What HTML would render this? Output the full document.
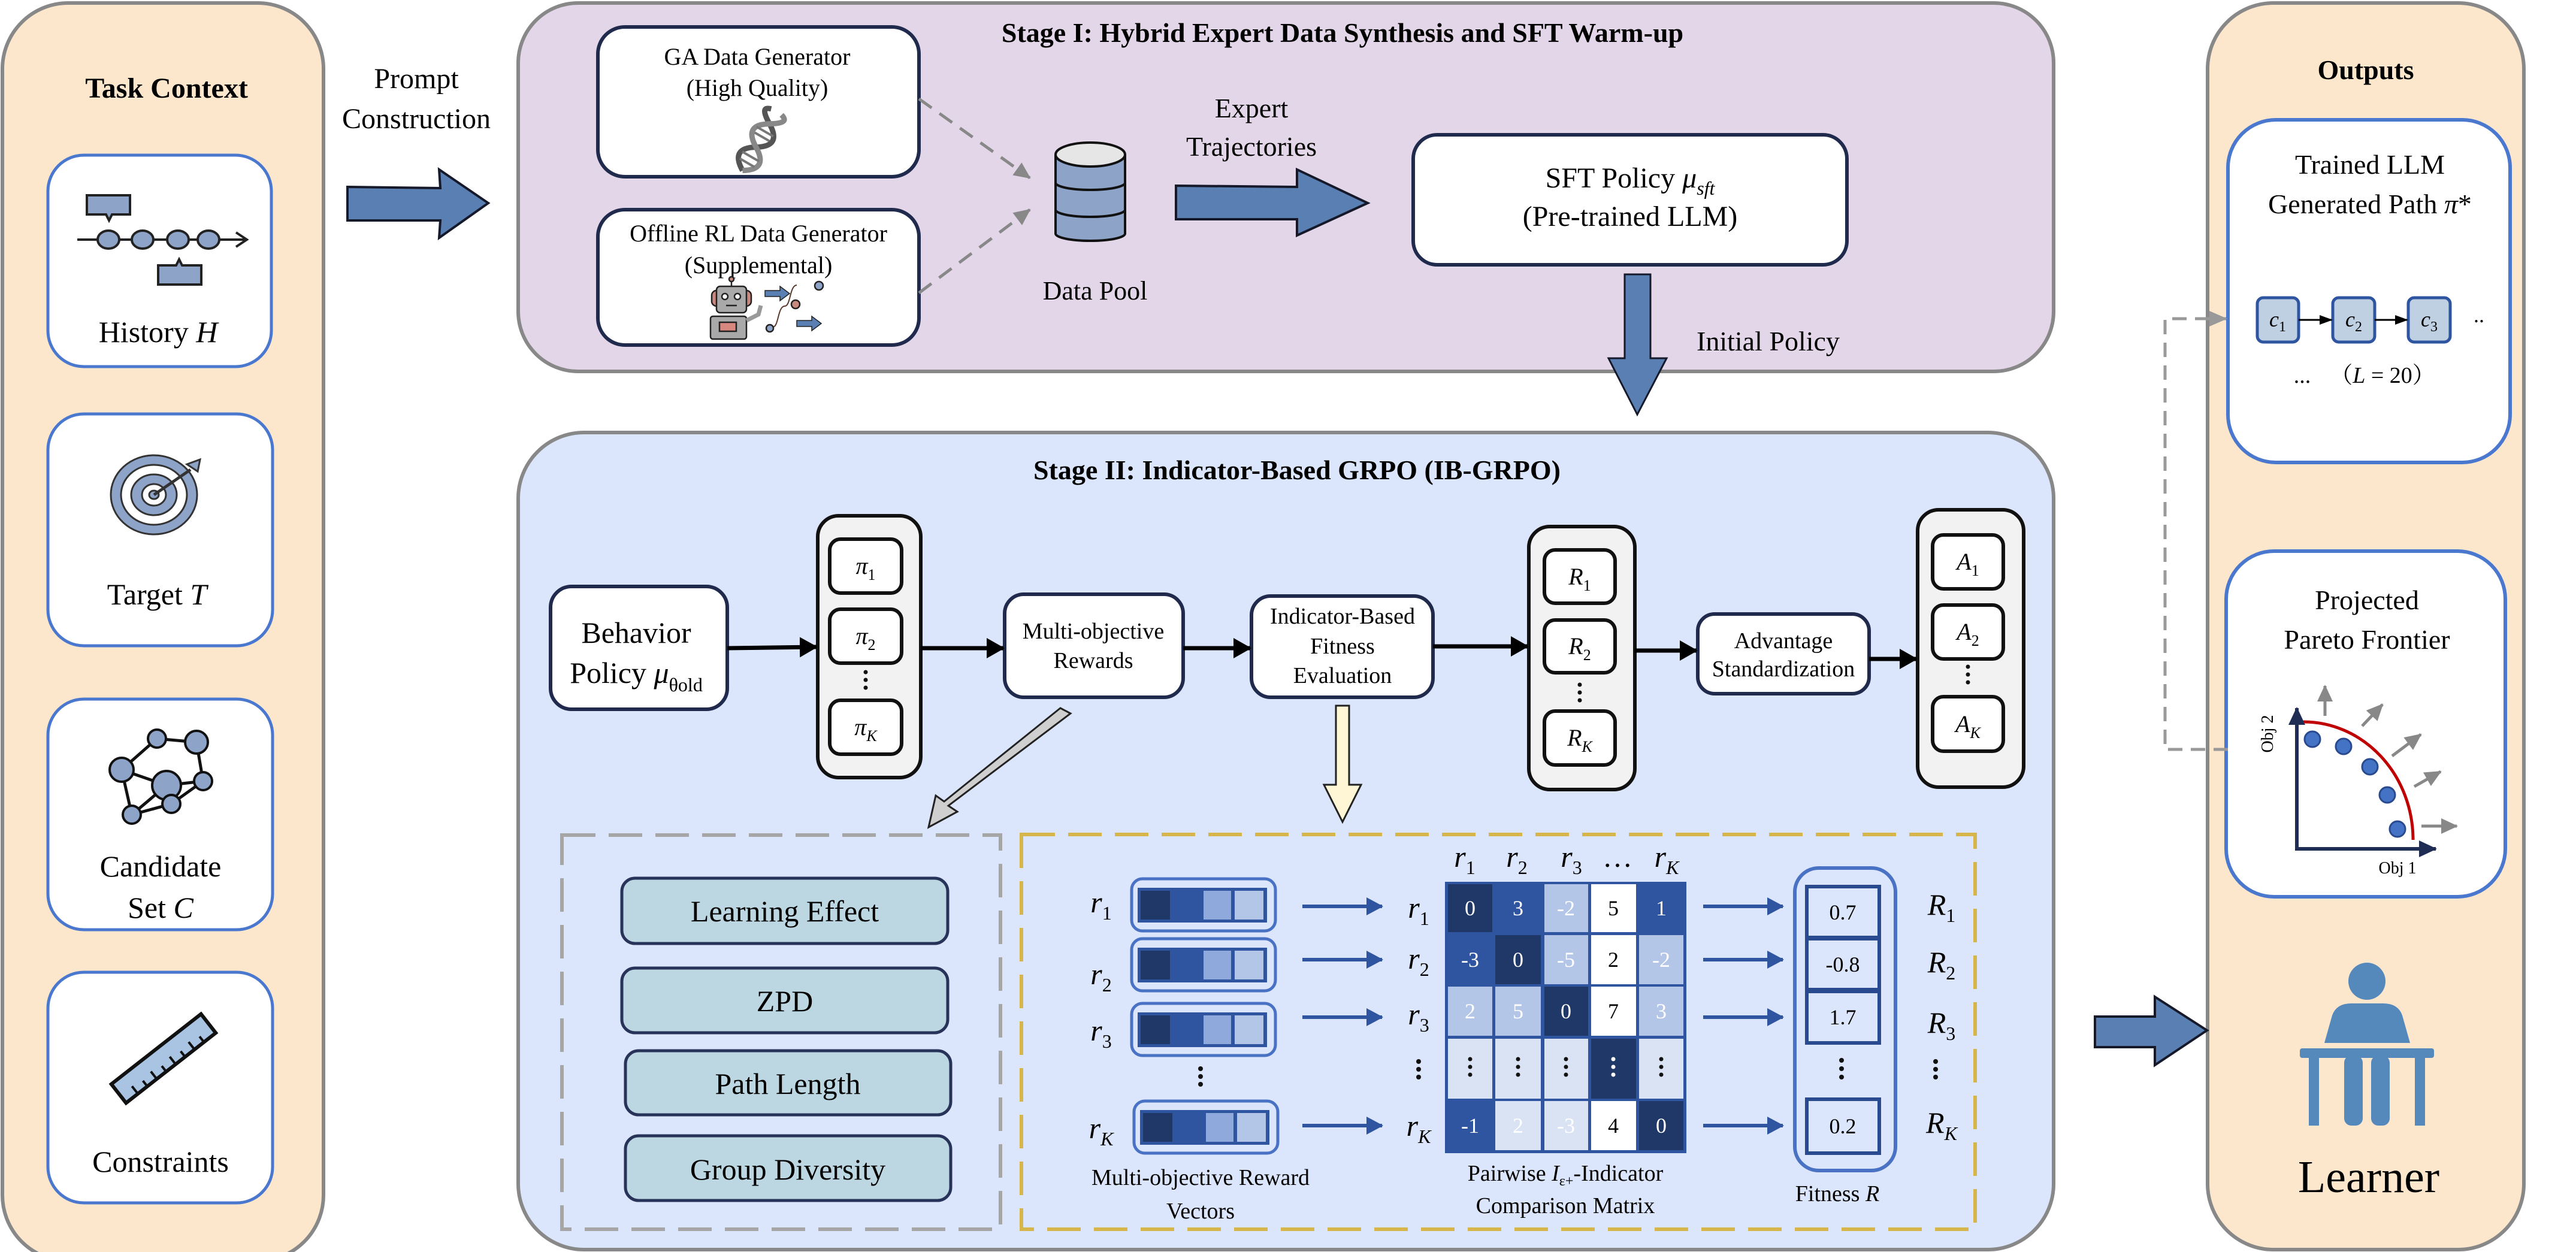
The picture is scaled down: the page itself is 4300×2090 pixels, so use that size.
<!DOCTYPE html>
<html><head><meta charset="utf-8"><style>
html,body{margin:0;padding:0;background:#fff;}
svg{display:block;}
svg text, svg tspan{font-family:"Liberation Serif","Noto Serif CJK SC","Times New Roman",serif;}
</style></head><body>
<svg width="4300" height="2090" viewBox="0 0 4300 2090" xmlns="http://www.w3.org/2000/svg" font-family="Liberation Serif, Noto Serif CJK SC, Times New Roman, serif" fill="#000">
<defs>
<marker id="abl" markerWidth="30" markerHeight="34" refX="28" refY="17" orient="auto" markerUnits="userSpaceOnUse"><path d="M0,0 L30,17 L0,34 z" fill="#000"/></marker>
<marker id="abb" markerWidth="28" markerHeight="30" refX="26" refY="15" orient="auto" markerUnits="userSpaceOnUse"><path d="M0,0 L28,15 L0,30 z" fill="#2f54a0"/></marker>
<marker id="ag" markerWidth="28" markerHeight="26" refX="26" refY="13" orient="auto" markerUnits="userSpaceOnUse"><path d="M0,0 L28,13 L0,26 z" fill="#888"/></marker>
<marker id="agd" markerWidth="30" markerHeight="26" refX="28" refY="13" orient="auto" markerUnits="userSpaceOnUse"><path d="M0,0 L30,13 L0,26 z" fill="#999"/></marker>
<marker id="asm" markerWidth="22" markerHeight="16" refX="20" refY="8" orient="auto" markerUnits="userSpaceOnUse"><path d="M0,0 L22,8 L0,16 z" fill="#000"/></marker>
<marker id="anv" markerWidth="30" markerHeight="28" refX="28" refY="14" orient="auto" markerUnits="userSpaceOnUse"><path d="M0,0 L30,14 L0,28 z" fill="#1f2d55"/></marker>
</defs>

<!-- LEFT PANEL -->
<rect x="4" y="5" width="536" height="2100" rx="110" fill="#fde7cc" stroke="#888" stroke-width="6"/>
<text x="278" y="163" font-size="48" font-weight="bold" text-anchor="middle">Task Context</text>

<rect x="80" y="259" width="373" height="353" rx="60" fill="#fff" stroke="#4a78cf" stroke-width="5"/>
<g stroke="#222" stroke-width="4">
<line x1="129" y1="400" x2="410" y2="400"/>
<polyline points="394,388 412,400 394,412" fill="none"/>
<g fill="#8ea3c8"><ellipse cx="181" cy="400" rx="18" ry="15"/><ellipse cx="238" cy="400" rx="18" ry="15"/><ellipse cx="297" cy="400" rx="18" ry="15"/><ellipse cx="348" cy="400" rx="18" ry="15"/>
<path d="M145,326 h72 v32 h-30 l-5,10 l-5,-10 h-32 z"/><path d="M264,443 h30 l5,-10 l5,10 h32 v32 h-72 z"/></g></g>
<text x="264" y="571" font-size="50" text-anchor="middle">History <tspan font-style="italic">H</tspan></text>

<rect x="80" y="691" width="375" height="387" rx="60" fill="#fff" stroke="#4a78cf" stroke-width="5"/>
<g stroke="#333" stroke-width="3">
<ellipse cx="257" cy="826" rx="72" ry="66" fill="#8ea3c8"/>
<ellipse cx="257" cy="826" rx="55" ry="50" fill="#fff"/>
<ellipse cx="257" cy="826" rx="38" ry="34" fill="#8ea3c8"/>
<ellipse cx="257" cy="826" rx="20" ry="18" fill="#fff"/>
<ellipse cx="257" cy="826" rx="8" ry="7" fill="#8ea3c8"/>
<line x1="257" y1="826" x2="318" y2="784" stroke-width="5"/>
<path d="M312,775 l22,-8 l-4,20 z" fill="#8ea3c8"/></g>
<text x="262" y="1009" font-size="50" text-anchor="middle">Target <tspan font-style="italic">T</tspan></text>

<rect x="80" y="1167" width="375" height="385" rx="60" fill="#fff" stroke="#4a78cf" stroke-width="5"/>
<g stroke="#111" stroke-width="5"><line x1="203" y1="1285" x2="262" y2="1233"/><line x1="262" y1="1233" x2="328" y2="1239"/><line x1="203" y1="1285" x2="278" y2="1311"/><line x1="328" y1="1239" x2="339" y2="1304"/><line x1="278" y1="1311" x2="339" y2="1304"/><line x1="203" y1="1285" x2="220" y2="1360"/><line x1="220" y1="1360" x2="286" y2="1342"/><line x1="286" y1="1342" x2="339" y2="1304"/><line x1="220" y1="1360" x2="278" y2="1311"/>
<g fill="#8ea3c8" stroke-width="4"><circle cx="203" cy="1285" r="20"/><circle cx="262" cy="1233" r="15"/><circle cx="328" cy="1239" r="19"/><circle cx="278" cy="1311" r="24"/><circle cx="339" cy="1304" r="15"/><circle cx="220" cy="1360" r="15"/><circle cx="286" cy="1342" r="15"/></g></g>
<text x="268" y="1463" font-size="50" text-anchor="middle">Candidate</text>
<text x="268" y="1532" font-size="50" text-anchor="middle">Set <tspan font-style="italic">C</tspan></text>

<rect x="80" y="1623" width="375" height="385" rx="60" fill="#fff" stroke="#4a78cf" stroke-width="5"/>
<g transform="translate(273,1767) rotate(-38)"><rect x="-95" y="-20" width="190" height="40" fill="#a9c3e3" stroke="#111" stroke-width="6"/>
<g stroke="#111" stroke-width="4"><line x1="-70" y1="20" x2="-70" y2="4"/><line x1="-50" y1="20" x2="-50" y2="8"/><line x1="-30" y1="20" x2="-30" y2="4"/><line x1="-10" y1="20" x2="-10" y2="8"/><line x1="10" y1="20" x2="10" y2="4"/><line x1="30" y1="20" x2="30" y2="8"/><line x1="50" y1="20" x2="50" y2="4"/><line x1="70" y1="20" x2="70" y2="8"/></g></g>
<text x="268" y="1956" font-size="50" text-anchor="middle">Constraints</text>

<text x="695" y="147" font-size="48" text-anchor="middle">Prompt</text>
<text x="695" y="214" font-size="48" text-anchor="middle">Construction</text>
<polygon points="580,312 735,314 733,283 815,339 733,397 735,368 580,368" fill="#5a7fb2" stroke="#15192a" stroke-width="4"/>

<!-- STAGE I -->
<rect x="865" y="5" width="2563" height="615" rx="100" fill="#e3d6e8" stroke="#888" stroke-width="6"/>
<text x="2241" y="70" font-size="46" font-weight="bold" text-anchor="middle">Stage I: Hybrid Expert Data Synthesis and SFT Warm-up</text>
<rect x="998" y="45" width="536" height="250" rx="45" fill="#fff" stroke="#1f2a4d" stroke-width="6"/>
<text x="1264" y="108" font-size="40" text-anchor="middle">GA Data Generator</text>
<text x="1264" y="160" font-size="40" text-anchor="middle">(High Quality)</text>
<g transform="translate(1267,237) rotate(-60)">
<path d="M-55,0 C-40,-25 -25,-25 -10,0 S20,25 35,0 S55,-20 58,-10" fill="none" stroke="#555" stroke-width="9"/>
<path d="M-55,0 C-40,25 -25,25 -10,0 S20,-25 35,0 S55,20 58,10" fill="none" stroke="#888" stroke-width="9"/>
<g stroke="#777" stroke-width="4"><line x1="-40" y1="-14" x2="-40" y2="14"/><line x1="-28" y1="-16" x2="-28" y2="16"/><line x1="10" y1="-14" x2="10" y2="14"/><line x1="20" y1="-16" x2="20" y2="16"/></g></g>

<rect x="998" y="350" width="536" height="226" rx="45" fill="#fff" stroke="#1f2a4d" stroke-width="6"/>
<text x="1266" y="403" font-size="40" text-anchor="middle">Offline RL Data Generator</text>
<text x="1266" y="456" font-size="40" text-anchor="middle">(Supplemental)</text>
<g stroke="#222" stroke-width="2.5">
<line x1="1221" y1="468" x2="1221" y2="480"/><circle cx="1221" cy="466" r="4" fill="#c9897f"/>
<rect x="1188" y="485" width="26" height="26" rx="8" fill="#c9897f"/><rect x="1228" y="485" width="26" height="26" rx="8" fill="#c9897f"/>
<rect x="1196" y="478" width="50" height="44" rx="6" fill="#a9a9a9"/>
<circle cx="1210" cy="495" r="5" fill="#fff"/><circle cx="1231" cy="495" r="5" fill="#fff"/><line x1="1212" y1="510" x2="1230" y2="510"/>
<rect x="1186" y="528" width="60" height="38" rx="4" fill="#a9a9a9"/><rect x="1201" y="538" width="28" height="15" fill="#d98880"/>
<path d="M1246,535 l20,-10 l4,-15" fill="none" stroke-width="7" stroke="#999"/>
<path d="M1290,546 c10,0 8,-35 20,-35 c10,0 8,-35 20,-35" fill="none" stroke="#5a3a2a" stroke-width="2"/>
<circle cx="1285" cy="548" r="6" fill="#8ea3c8"/><circle cx="1328" cy="508" r="7" fill="#c9897f"/><circle cx="1367" cy="477" r="7" fill="#8ea3c8"/>
<polygon points="1277,485 1302,485 1302,478 1318,490 1302,502 1302,495 1277,495" fill="#5a7fb2" stroke-width="1.5"/>
<polygon points="1330,535 1355,535 1355,528 1371,540 1355,552 1355,545 1330,545" fill="#5a7fb2" stroke-width="1.5"/></g>

<line x1="1534" y1="165" x2="1719" y2="297" stroke="#888" stroke-width="5" stroke-dasharray="26,16" marker-end="url(#ag)"/>
<line x1="1534" y1="489" x2="1719" y2="350" stroke="#888" stroke-width="5" stroke-dasharray="26,16" marker-end="url(#ag)"/>

<g stroke="#111" stroke-width="4">
<path d="M1762,350 v40 a58,12 0 0 0 116,0 v-40" fill="#8ea3c8"/>
<path d="M1762,305 v45 a58,12 0 0 0 116,0 v-45" fill="#8ea3c8"/>
<path d="M1762,258 v47 a58,12 0 0 0 116,0 v-47" fill="#8ea3c8"/>
<ellipse cx="1820" cy="258" rx="58" ry="20" fill="#e6e6e6"/></g>
<text x="1828" y="500" font-size="44" text-anchor="middle">Data Pool</text>

<text x="2089" y="196" font-size="46" text-anchor="middle">Expert</text>
<text x="2089" y="260" font-size="46" text-anchor="middle">Trajectories</text>
<polygon points="1963,310 2165,312 2165,283 2283,339 2165,393 2165,366 1963,366" fill="#5a7fb2" stroke="#15192a" stroke-width="4"/>

<rect x="2359" y="225" width="724" height="217" rx="40" fill="#fff" stroke="#1f2a4d" stroke-width="6"/>
<text x="2721" y="313" font-size="48" text-anchor="middle">SFT Policy <tspan font-style="italic">μ</tspan><tspan font-style="italic" font-size="32" dy="12">sft</tspan></text>
<text x="2721" y="377" font-size="48" text-anchor="middle">(Pre-trained LLM)</text>

<polygon points="2712,458 2755,458 2755,598 2782,598 2733,692 2685,598 2712,598" fill="#5a7fb2" stroke="#15192a" stroke-width="3"/>
<text x="2832" y="585" font-size="46">Initial Policy</text>

<!-- STAGE II -->
<rect x="865" y="722" width="2563" height="1364" rx="110" fill="#dbe5fb" stroke="#888" stroke-width="6"/>
<text x="2165" y="800" font-size="46" font-weight="bold" text-anchor="middle">Stage II: Indicator-Based GRPO (IB-GRPO)</text>

<g stroke="#1f2a4d" stroke-width="6" fill="#fff">
<rect x="919" y="979" width="295" height="205" rx="35"/>
<rect x="1677" y="992" width="298" height="172" rx="32"/>
<rect x="2089" y="995" width="303" height="169" rx="32"/>
<rect x="2834" y="1025" width="286" height="133" rx="28"/></g>
<text x="1062" y="1073" font-size="50" text-anchor="middle">Behavior</text>
<text x="1062" y="1140" font-size="50" text-anchor="middle">Policy <tspan font-style="italic">μ</tspan><tspan font-size="32" dy="14">θold</tspan></text>
<text x="1825" y="1066" font-size="38" text-anchor="middle">Multi-objective</text>
<text x="1825" y="1115" font-size="38" text-anchor="middle">Rewards</text>
<text x="2241" y="1041" font-size="38" text-anchor="middle">Indicator-Based</text>
<text x="2241" y="1091" font-size="38" text-anchor="middle">Fitness</text>
<text x="2241" y="1140" font-size="38" text-anchor="middle">Evaluation</text>
<text x="2977" y="1082" font-size="38" text-anchor="middle">Advantage</text>
<text x="2977" y="1129" font-size="38" text-anchor="middle">Standardization</text>

<g stroke="#111" stroke-width="6" fill="#f2f2f2">
<rect x="1365" y="861" width="172" height="437" rx="35"/>
<rect x="2552" y="879" width="177" height="439" rx="35"/>
<rect x="3201" y="851" width="177" height="463" rx="35"/></g>
<g stroke="#111" stroke-width="6" fill="#fff">
<rect x="1385" y="900" width="120" height="90" rx="18"/><rect x="1385" y="1017" width="120" height="90" rx="18"/><rect x="1385" y="1169" width="120" height="90" rx="18"/>
<rect x="2578" y="918" width="118" height="89" rx="18"/><rect x="2578" y="1035" width="118" height="88" rx="18"/><rect x="2578" y="1187" width="118" height="90" rx="18"/>
<rect x="3226" y="893" width="118" height="90" rx="18"/><rect x="3226" y="1010" width="118" height="90" rx="18"/><rect x="3226" y="1163" width="118" height="91" rx="18"/></g>
<g font-size="40" text-anchor="middle" font-style="italic">
<text x="1445" y="958">π<tspan font-size="26" dy="10" font-style="normal">1</tspan></text>
<text x="1445" y="1075">π<tspan font-size="26" dy="10" font-style="normal">2</tspan></text>
<text x="1445" y="1227">π<tspan font-size="26" dy="10">K</tspan></text>
<text x="2637" y="976">R<tspan font-size="26" dy="10" font-style="normal">1</tspan></text>
<text x="2637" y="1092">R<tspan font-size="26" dy="10" font-style="normal">2</tspan></text>
<text x="2637" y="1245">R<tspan font-size="26" dy="10">K</tspan></text>
<text x="3285" y="951">A<tspan font-size="26" dy="10" font-style="normal">1</tspan></text>
<text x="3285" y="1068">A<tspan font-size="26" dy="10" font-style="normal">2</tspan></text>
<text x="3285" y="1222">A<tspan font-size="26" dy="10">K</tspan></text></g>
<g fill="#111"><circle cx="1445" cy="1122" r="3.5"/><circle cx="1445" cy="1135" r="3.5"/><circle cx="1445" cy="1148" r="3.5"/>
<circle cx="2637" cy="1143" r="3.5"/><circle cx="2637" cy="1156" r="3.5"/><circle cx="2637" cy="1169" r="3.5"/>
<circle cx="3285" cy="1113" r="3.5"/><circle cx="3285" cy="1126" r="3.5"/><circle cx="3285" cy="1139" r="3.5"/></g>

<g stroke="#000" stroke-width="7" marker-end="url(#abl)">
<line x1="1214" y1="1082" x2="1363" y2="1080"/>
<line x1="1537" y1="1082" x2="1675" y2="1082"/>
<line x1="1975" y1="1082" x2="2087" y2="1082"/>
<line x1="2392" y1="1079" x2="2550" y2="1079"/>
<line x1="2729" y1="1086" x2="2832" y2="1086"/>
<line x1="3120" y1="1100" x2="3199" y2="1100"/></g>

<polygon points="1770,1182 1787,1191 1583,1345 1598,1355 1550,1381 1562,1328 1576,1338" fill="#cfcfcf" stroke="#222" stroke-width="3"/>
<polygon points="2230,1178 2252,1178 2252,1310 2272,1310 2241,1372 2210,1310 2230,1310" fill="#fff6d5" stroke="#222" stroke-width="3"/>

<rect x="938" y="1394" width="732" height="658" fill="none" stroke="#a6a6a6" stroke-width="6" stroke-dasharray="56,22"/>
<g fill="#bcd7e2" stroke="#283359" stroke-width="5">
<rect x="1038" y="1466" width="544" height="109" rx="22"/><rect x="1038" y="1616" width="544" height="108" rx="22"/>
<rect x="1044" y="1754" width="543" height="107" rx="22"/><rect x="1044" y="1896" width="543" height="108" rx="22"/></g>
<g font-size="50" text-anchor="middle"><text x="1310" y="1538">Learning Effect</text><text x="1310" y="1688">ZPD</text><text x="1315" y="1826">Path Length</text><text x="1315" y="1969">Group Diversity</text></g>

<rect x="1705" y="1393" width="1592" height="659" fill="none" stroke="#d6b54a" stroke-width="6" stroke-dasharray="56,22"/>

<g id="rv">
<rect x="1889" y="1467" width="240" height="87" rx="18" fill="#dbe5fb" stroke="#4a72c4" stroke-width="5"/>
<rect x="1899" y="1482" width="216" height="58" fill="#2f54a0"/>
<rect x="1904" y="1487" width="49" height="48" fill="#1f3868"/>
<rect x="2009" y="1487" width="46" height="48" fill="#8fa9dc"/>
<rect x="2061" y="1487" width="48" height="48" fill="#b4c6e7"/></g>
<use href="#rv" y="100"/><use href="#rv" y="208"/><use href="#rv" x="4" y="371"/>
<g font-size="50" font-style="italic" text-anchor="middle">
<text x="1838" y="1523">r<tspan font-size="32" dy="12" font-style="normal">1</tspan></text>
<text x="1838" y="1643">r<tspan font-size="32" dy="12" font-style="normal">2</tspan></text>
<text x="1838" y="1737">r<tspan font-size="32" dy="12" font-style="normal">3</tspan></text>
<text x="1838" y="1900">r<tspan font-size="32" dy="12">K</tspan></text>
<text x="2368" y="1532">r<tspan font-size="32" dy="12" font-style="normal">1</tspan></text>
<text x="2368" y="1617">r<tspan font-size="32" dy="12" font-style="normal">2</tspan></text>
<text x="2368" y="1710">r<tspan font-size="32" dy="12" font-style="normal">3</tspan></text>
<text x="2368" y="1896">r<tspan font-size="32" dy="12">K</tspan></text>
<text x="2445" y="1447">r<tspan font-size="32" dy="12" font-style="normal">1</tspan></text>
<text x="2532" y="1447">r<tspan font-size="32" dy="12" font-style="normal">2</tspan></text>
<text x="2623" y="1447">r<tspan font-size="32" dy="12" font-style="normal">3</tspan></text>
<text x="2700" y="1447" font-style="normal">…</text>
<text x="2782" y="1447">r<tspan font-size="32" dy="12">K</tspan></text>
<text x="3241" y="1527">R<tspan font-size="32" dy="12" font-style="normal">1</tspan></text>
<text x="3241" y="1623">R<tspan font-size="32" dy="12" font-style="normal">2</tspan></text>
<text x="3241" y="1724">R<tspan font-size="32" dy="12" font-style="normal">3</tspan></text>
<text x="3241" y="1891">R<tspan font-size="32" dy="12">K</tspan></text></g>
<g fill="#111"><circle cx="2004" cy="1784" r="4"/><circle cx="2004" cy="1797" r="4"/><circle cx="2004" cy="1810" r="4"/>
<circle cx="2368" cy="1772" r="4"/><circle cx="2368" cy="1785" r="4"/><circle cx="2368" cy="1798" r="4"/>
<circle cx="3074" cy="1770" r="4"/><circle cx="3074" cy="1784" r="4"/><circle cx="3074" cy="1798" r="4"/>
<circle cx="3231" cy="1772" r="4"/><circle cx="3231" cy="1785" r="4"/><circle cx="3231" cy="1798" r="4"/></g>

<g stroke="#2f54a0" stroke-width="6" marker-end="url(#abb)">
<line x1="2174" y1="1513" x2="2307" y2="1513"/><line x1="2174" y1="1602" x2="2307" y2="1602"/>
<line x1="2174" y1="1698" x2="2307" y2="1698"/><line x1="2174" y1="1879" x2="2307" y2="1879"/>
<line x1="2843" y1="1513" x2="2976" y2="1513"/><line x1="2843" y1="1602" x2="2976" y2="1602"/>
<line x1="2843" y1="1698" x2="2976" y2="1698"/><line x1="2843" y1="1879" x2="2976" y2="1879"/></g>

<rect x="2412" y="1472" width="403" height="453" fill="#2f54a0"/>
<g>
<rect x="2417" y="1476" width="74" height="80" fill="#1f3868"/><rect x="2496" y="1476" width="76" height="80" fill="#2f54a0"/><rect x="2578" y="1476" width="73" height="80" fill="#b4c6e7"/><rect x="2656" y="1476" width="75" height="80" fill="#fff"/><rect x="2736" y="1476" width="74" height="80" fill="#2f54a0"/>
<rect x="2417" y="1561" width="74" height="82" fill="#2f54a0"/><rect x="2496" y="1561" width="76" height="82" fill="#1f3868"/><rect x="2578" y="1561" width="73" height="82" fill="#b4c6e7"/><rect x="2656" y="1561" width="75" height="82" fill="#fff"/><rect x="2736" y="1561" width="74" height="82" fill="#b4c6e7"/>
<rect x="2417" y="1647" width="74" height="82" fill="#b4c6e7"/><rect x="2496" y="1647" width="76" height="82" fill="#b4c6e7"/><rect x="2578" y="1647" width="73" height="82" fill="#1f3868"/><rect x="2656" y="1647" width="75" height="82" fill="#fff"/><rect x="2736" y="1647" width="74" height="82" fill="#b4c6e7"/>
<rect x="2417" y="1734" width="74" height="100" fill="#dae3f3"/><rect x="2496" y="1734" width="76" height="100" fill="#dae3f3"/><rect x="2578" y="1734" width="73" height="100" fill="#dae3f3"/><rect x="2656" y="1734" width="75" height="100" fill="#1f3868"/><rect x="2736" y="1734" width="74" height="100" fill="#dae3f3"/>
<rect x="2417" y="1838" width="74" height="82" fill="#2f54a0"/><rect x="2496" y="1838" width="76" height="82" fill="#dae3f3"/><rect x="2578" y="1838" width="73" height="82" fill="#dae3f3"/><rect x="2656" y="1838" width="75" height="82" fill="#fff"/><rect x="2736" y="1838" width="74" height="82" fill="#1f3868"/></g>
<g font-size="36" text-anchor="middle">
<text x="2454" y="1528" fill="#fff">0</text><text x="2534" y="1528" fill="#fff">3</text><text x="2614" y="1528" fill="#fff">-2</text><text x="2693" y="1528" fill="#000">5</text><text x="2773" y="1528" fill="#fff">1</text>
<text x="2454" y="1614" fill="#fff">-3</text><text x="2534" y="1614" fill="#fff">0</text><text x="2614" y="1614" fill="#fff">-5</text><text x="2693" y="1614" fill="#000">2</text><text x="2773" y="1614" fill="#fff">-2</text>
<text x="2454" y="1700" fill="#fff">2</text><text x="2534" y="1700" fill="#fff">5</text><text x="2614" y="1700" fill="#fff">0</text><text x="2693" y="1700" fill="#000">7</text><text x="2773" y="1700" fill="#fff">3</text>
<text x="2454" y="1891" fill="#fff">-1</text><text x="2534" y="1891" fill="#fff">2</text><text x="2614" y="1891" fill="#fff">-3</text><text x="2693" y="1891" fill="#000">4</text><text x="2773" y="1891" fill="#fff">0</text></g>
<g fill="#111"><circle cx="2454" cy="1768" r="3.5"/><circle cx="2454" cy="1781" r="3.5"/><circle cx="2454" cy="1794" r="3.5"/>
<circle cx="2534" cy="1768" r="3.5"/><circle cx="2534" cy="1781" r="3.5"/><circle cx="2534" cy="1794" r="3.5"/>
<circle cx="2614" cy="1768" r="3.5"/><circle cx="2614" cy="1781" r="3.5"/><circle cx="2614" cy="1794" r="3.5"/>
<circle cx="2773" cy="1768" r="3.5"/><circle cx="2773" cy="1781" r="3.5"/><circle cx="2773" cy="1794" r="3.5"/></g>
<g fill="#fff"><circle cx="2693" cy="1768" r="3.5"/><circle cx="2693" cy="1781" r="3.5"/><circle cx="2693" cy="1794" r="3.5"/></g>

<rect x="2996" y="1449" width="168" height="505" rx="40" fill="none" stroke="#4a72c4" stroke-width="6"/>
<g fill="none" stroke="#2a4a90" stroke-width="6">
<rect x="3016" y="1480" width="121" height="85"/><rect x="3016" y="1567" width="121" height="85"/><rect x="3016" y="1655" width="121" height="86"/><rect x="3016" y="1835" width="121" height="90"/></g>
<g font-size="36" text-anchor="middle"><text x="3076" y="1535">0.7</text><text x="3076" y="1622">-0.8</text><text x="3076" y="1710">1.7</text><text x="3076" y="1892">0.2</text></g>

<g font-size="38" text-anchor="middle">
<text x="2004" y="1978">Multi-objective Reward</text><text x="2004" y="2034">Vectors</text>
<text x="2613" y="1971">Pairwise <tspan font-style="italic">I</tspan><tspan font-size="24" dy="8">ε+</tspan><tspan dy="-8">-Indicator</tspan></text>
<text x="2613" y="2025">Comparison Matrix</text>
<text x="3067" y="2005">Fitness <tspan font-style="italic">R</tspan></text></g>

<!-- RIGHT PANEL -->
<rect x="3685" y="5" width="528" height="2081" rx="110" fill="#fde7cc" stroke="#888" stroke-width="6"/>
<text x="3949" y="132" font-size="46" font-weight="bold" text-anchor="middle">Outputs</text>

<rect x="3719" y="200" width="471" height="572" rx="80" fill="#fff" stroke="#4a78cf" stroke-width="6"/>
<text x="3956" y="290" font-size="46" text-anchor="middle">Trained LLM</text>
<text x="3956" y="356" font-size="46" text-anchor="middle">Generated Path <tspan font-style="italic">π</tspan>*</text>
<g fill="#bfd0e3" stroke="#2f54a0" stroke-width="5">
<rect x="3768" y="497" width="69" height="74" rx="10"/><rect x="3894" y="497" width="70" height="74" rx="10"/><rect x="4020" y="497" width="70" height="74" rx="10"/></g>
<g font-size="36" font-style="italic" text-anchor="middle">
<text x="3802" y="545">c<tspan font-size="24" dy="8" font-style="normal">1</tspan></text>
<text x="3929" y="545">c<tspan font-size="24" dy="8" font-style="normal">2</tspan></text>
<text x="4055" y="545">c<tspan font-size="24" dy="8" font-style="normal">3</tspan></text></g>
<g stroke="#000" stroke-width="3" marker-end="url(#asm)"><line x1="3837" y1="534" x2="3892" y2="534"/><line x1="3964" y1="534" x2="4018" y2="534"/></g>
<text x="4138" y="538" font-size="36" text-anchor="middle">..</text>
<text x="3843" y="639" font-size="38" text-anchor="middle">...</text>
<text x="3977" y="639" font-size="38" text-anchor="middle">（<tspan font-style="italic">L</tspan> = 20）</text>

<rect x="3716" y="920" width="466" height="577" rx="80" fill="#fff" stroke="#4a78cf" stroke-width="6"/>
<text x="3951" y="1017" font-size="46" text-anchor="middle">Projected</text>
<text x="3951" y="1083" font-size="46" text-anchor="middle">Pareto Frontier</text>
<path d="M3834,1420 V1182" stroke="#1f2d55" stroke-width="6" marker-end="url(#anv)"/>
<path d="M3832,1417 H4066" stroke="#1f2d55" stroke-width="6" marker-end="url(#anv)"/>
<path d="M3845,1205 A183,197 0 0 1 4028,1402" fill="none" stroke="#c00000" stroke-width="5"/>
<g fill="#4472c4" stroke="#2a4a90" stroke-width="3">
<circle cx="3860" cy="1234" r="13"/><circle cx="3912" cy="1246" r="13"/><circle cx="3956" cy="1280" r="13"/><circle cx="3985" cy="1327" r="13"/><circle cx="4002" cy="1384" r="13"/></g>
<g stroke="#888" stroke-width="5" marker-end="url(#ag)">
<line x1="3881" y1="1195" x2="3881" y2="1145"/><line x1="3943" y1="1212" x2="3977" y2="1176"/><line x1="3993" y1="1262" x2="4041" y2="1226"/><line x1="4030" y1="1313" x2="4074" y2="1288"/><line x1="4042" y1="1379" x2="4101" y2="1379"/></g>
<text x="3794" y="1225" font-size="28" text-anchor="middle" transform="rotate(-90 3794 1225)">Obj 2</text>
<text x="4002" y="1458" font-size="28" text-anchor="middle">Obj 1</text>

<path d="M3719,1251 H3614 V532 H3716" fill="none" stroke="#999" stroke-width="5" stroke-dasharray="24,14" marker-end="url(#agd)"/>

<polygon points="3497,1697 3597,1697 3597,1664 3684,1720 3597,1778 3597,1748 3497,1748" fill="#5a7fb2" stroke="#15192a" stroke-width="4"/>
<g fill="#5588bb">
<circle cx="3951" cy="1638" r="31"/>
<path d="M3880,1741 L3893,1695 Q3900,1675 3925,1675 H3978 Q4003,1675 4010,1695 L4023,1741 Z"/>
<rect x="3839" y="1750" width="224" height="16" rx="4"/>
<rect x="3854" y="1762" width="17" height="117"/><rect x="4031" y="1762" width="17" height="117"/>
<rect x="3913" y="1762" width="31" height="117" rx="12"/><rect x="3958" y="1762" width="31" height="117" rx="12"/></g>
<text x="3954" y="1990" font-size="76" text-anchor="middle">Learner</text>
</svg>
</body></html>
